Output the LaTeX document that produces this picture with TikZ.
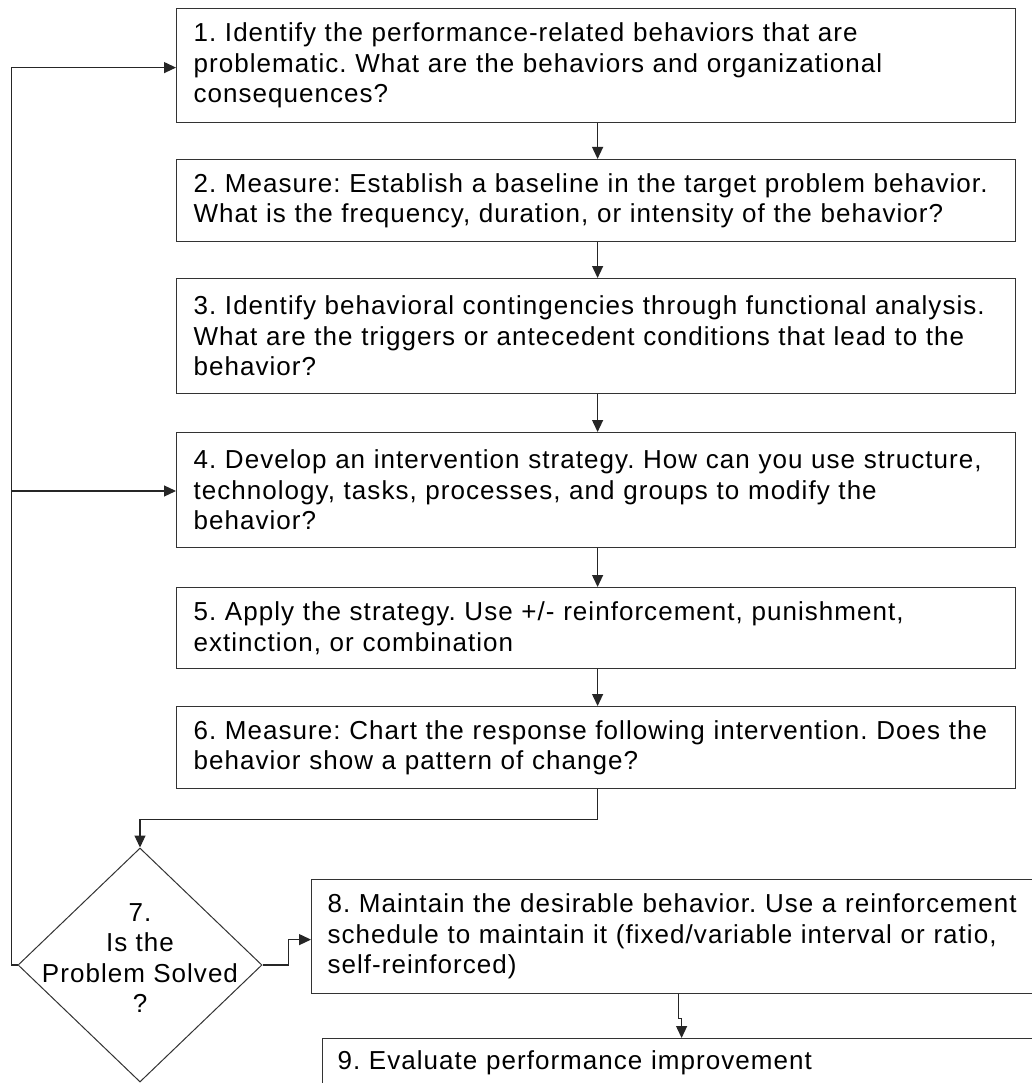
\documentclass[tikz,border=0pt]{standalone}
\usepackage{fontspec}
\setmainfont{Liberation Sans}[LetterSpace=4]
\usetikzlibrary{shapes.geometric,arrows.meta}
\begin{document}
\frenchspacing
\begin{tikzpicture}[x=1pt,y=-1pt,
  every node/.style={font=\fontsize{26}{30.5}\selectfont},
  stepbox/.style={draw=black!80,line width=1.2pt,anchor=north west,align=left,
    inner xsep=17pt,inner ysep=0pt},
  arr/.style={draw=black!85,line width=1.2pt,-{Triangle[length=12pt,width=11pt]}},
  ln/.style={draw=black!85,line width=1.2pt}]
\clip (0,0) rectangle (1032,1083);
\fill[white] (0,0) rectangle (1032,1083);
\node[stepbox,minimum width=839pt,minimum height=114pt,text width=805pt] (n1) at (176,8)
  {1. Identify the performance-related behaviors that are\\problematic. What are the behaviors and organizational\\consequences?};
\node[stepbox,minimum width=839pt,minimum height=82pt,text width=805pt] (n2) at (176,159)
  {2. Measure: Establish a baseline in the target problem behavior.\\What is the frequency, duration, or intensity of the behavior?};
\node[stepbox,minimum width=839pt,minimum height=115pt,text width=805pt] (n3) at (176,278)
  {3. Identify behavioral contingencies through functional analysis.\\What are the triggers or antecedent conditions that lead to the\\behavior?};
\node[stepbox,minimum width=839pt,minimum height=115pt,text width=805pt] (n4) at (176,432)
  {4. Develop an intervention strategy. How can you use structure,\\technology, tasks, processes, and groups to modify the\\behavior?};
\node[stepbox,minimum width=839pt,minimum height=81pt,text width=805pt] (n5) at (176,587)
  {5. Apply the strategy. Use +/- reinforcement, punishment,\\extinction, or combination};
\node[stepbox,minimum width=839pt,minimum height=82pt,text width=805pt] (n6) at (176,706)
  {6. Measure: Chart the response following intervention. Does the\\behavior show a pattern of change?};
\node[draw=black!80,line width=1pt,shape=diamond,inner sep=0pt,minimum width=244pt,minimum height=234pt] (d) at (140,965) {};
\node[align=center,inner sep=0pt] (dt) at (140,958) {7.\\Is the\\Problem Solved\\?};
\node[stepbox,inner xsep=16pt,minimum width=734pt,minimum height=114pt,text width=702pt] (n8) at (311,879)
  {8. Maintain the desirable behavior. Use a reinforcement\\schedule to maintain it (fixed/variable interval or ratio,\\self-reinforced)};
\node[stepbox,inner xsep=15pt,minimum width=718pt,minimum height=82pt,text width=688pt] (n9) at (322,1038)
  {9. Evaluate performance improvement\\\strut};
\draw[arr] ([xshift=1.5pt]n1.south) -- ([xshift=1.5pt]n2.north);
\draw[arr] ([xshift=1.5pt]n2.south) -- ([xshift=1.5pt]n3.north);
\draw[arr] ([xshift=1.5pt]n3.south) -- ([xshift=1.5pt]n4.north);
\draw[arr] ([xshift=1.5pt]n4.south) -- ([xshift=1.5pt]n5.north);
\draw[arr] ([xshift=1.5pt]n5.south) -- ([xshift=1.5pt]n6.north);
\draw[arr] ([xshift=1.5pt]n6.south) -- ++(0,30) -| (d.north);
\draw[arr] (d.east) -- ++(26,0) |- ([yshift=-3pt]n8.west);
\draw[arr] (n8.south) -- ++(0,24) -| (n9.north);
\coordinate (lp) at (12,491);
\draw[arr] (d.west) -- ++(-6,0) |- ([yshift=-2pt]n1.west);
\draw[arr] (lp) -- (lp -| n4.west);
\end{tikzpicture}
\end{document}
